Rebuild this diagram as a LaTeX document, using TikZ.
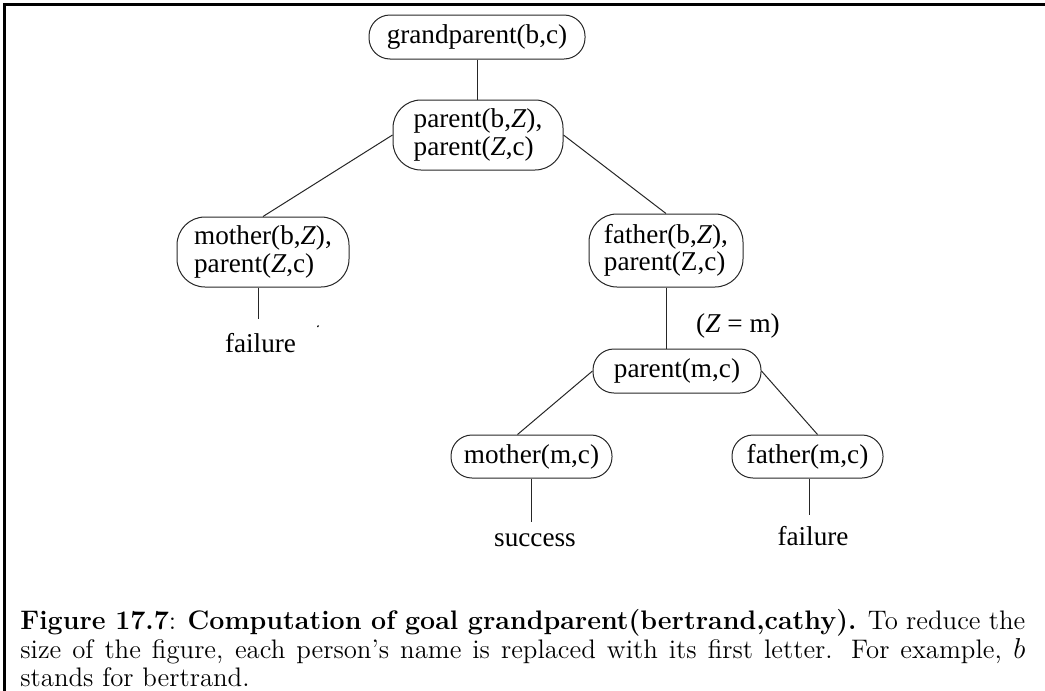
\documentclass[tikz,border=0pt]{standalone}
\usepackage{fontspec}
\newfontfamily\tms{Liberation Serif}
\begin{document}
\begin{tikzpicture}[x=0.5pt,y=-0.5pt,
  goal/.style={draw=black!85, line width=0.5pt, rounded corners=10.5pt, inner sep=0pt, align=left, font=\tms\fontsize{13.6}{13.8}\selectfont},
  lbl/.style={inner sep=0pt, anchor=base, font=\tms\fontsize{13.6}{13.8}\selectfont},
  edge/.style={draw=black!85, line width=0.5pt}]
\useasboundingbox (0,0) rectangle (1045,691);
\draw[line width=1.4pt] (4.5,691) -- (4.5,4.5) -- (1045,4.5);

\node[goal, minimum width=108pt, minimum height=22pt] (gp) at (477,37) {grandparent(b,c)};
\node[goal, minimum width=85pt, minimum height=35pt, rounded corners=14pt] (p1) at (478,135) {parent(b,\textit{Z}),\\parent(\textit{Z},c)};
\node[goal, minimum width=86pt, minimum height=35pt, rounded corners=14pt] (m1) at (263,252) {mother(b,\textit{Z}),\\parent(\textit{Z},c)};
\node[goal, minimum width=77pt, minimum height=36.5pt, rounded corners=14pt] (f1) at (666,250.5) {father(b,\textit{Z}),\\parent(Z,c)};
\node[goal, minimum width=84pt, minimum height=22pt] (pm) at (677,371) {parent(m,c)};
\node[goal, minimum width=80.5pt, minimum height=21.5pt] (mm) at (531.5,456.5) {mother(m,c)};
\node[goal, minimum width=75.5pt, minimum height=21.5pt] (fm) at (807.5,456.5) {father(m,c)};

\coordinate (e1) at (258,319);
\coordinate (e2) at (531,522);
\coordinate (e3) at (809,515);

\draw[edge] (gp.south) -- (gp.south |- p1.north);
\draw[edge] (p1.west) -- (m1.north);
\draw[edge] (p1.east) -- (f1.north);
\draw[edge] (f1.south) -- (f1.south |- pm.north);
\draw[edge] (pm.west) -- ([xshift=-7pt]mm.north);
\draw[edge] (pm.east) -- ([xshift=5pt]fm.north);
\draw[edge] (m1.south -| e1) -- (e1);
\draw[edge] (mm.south -| e2) -- (e2);
\draw[edge] (fm.south -| e3) -- (e3);

\node[lbl] (fail1) at (260.5,352) {failure};
\node[lbl] (succ) at (535,546) {success};
\node[lbl] (fail2) at (813,545) {failure};
\node[lbl] (zm) at (738,332) {(\textit{Z} = m)};
\draw[line width=0.6pt] (317.5,327) -- (318.5,325.5);

\node[anchor=north west, inner sep=0pt, text width=502.5pt, align=justify, font=\fontsize{13.4}{14.3}\selectfont] (cap) at (20,609) {\textbf{Figure 17.7}: \textbf{Computation of goal grandparent(bertrand,cathy).} To reduce the\linebreak size of the figure, each person's name is replaced with its first letter.  For example, $b$\linebreak stands for bertrand.};
\end{tikzpicture}
\end{document}
